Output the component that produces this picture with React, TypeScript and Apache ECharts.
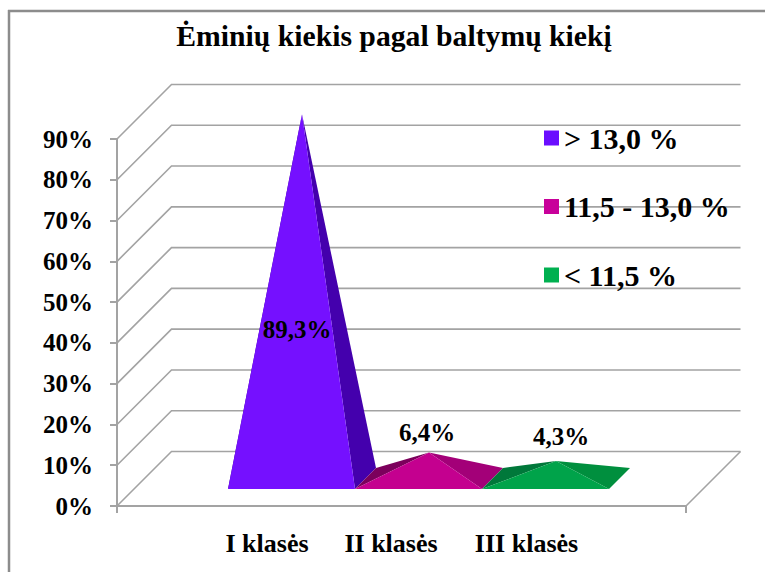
import React, { useEffect, useRef } from "react";
import * as echarts from "echarts";

const titleText = "Ėminių kiekis pagal baltymų kiekį";
const categories = ["I klasės", "II klasės", "III klasės"];
const seriesNames = ["> 13,0 %", "11,5 - 13,0 %", "< 11,5 %"];
const seriesValues = [89.3, 6.4, 4.3];
const dataLabels = ["89,3%", "6,4%", "4,3%"];
const yTicks = [0, 10, 20, 30, 40, 50, 60, 70, 80, 90];
const frontColors = ["#7510ff", "#c4008f", "#00a34a"];
const rightColors = ["#4400ad", "#a30078", "#008f3e"];
const leftColors = ["#3a0090", "#7c005c", "#00783a"];
const legendColors = ["#6a0dff", "#c8009a", "#00b050"];
const labelNudge = [[-5, 215], [-2, -20], [5, -24]];
const categoryLabelPadding = [0, 0, 23];

const FONT = '"Liberation Serif", "Times New Roman", serif';
const GRID_COLOR = "#a3a3a3";
const WALL_DEPTH = 54.5;
const D_FRONT = 17;
const D_BACK = 38;
const D_MID = 27.5;

const polygon = (points: number[][], fill: string) => ({
  type: "polygon",
  shape: { points },
  style: { fill, stroke: null },
});

function wallItem(params: any, api: any) {
  const v = api.value(0);
  const cs = params.coordSys;
  const y = api.coord([0, v])[1];
  const x0 = cs.x;
  const x1 = cs.x + cs.width;
  const children: any[] = [
    {
      type: "polyline",
      shape: {
        points: [
          [x0, y],
          [x0 + WALL_DEPTH, y - WALL_DEPTH],
          [x1 + WALL_DEPTH, y - WALL_DEPTH],
        ],
      },
      style: { stroke: GRID_COLOR, lineWidth: 1.6, fill: null },
    },
  ];
  if (v === 0) {
    children.push({
      type: "line",
      shape: { x1: x1, y1: y, x2: x1 + WALL_DEPTH, y2: y - WALL_DEPTH },
      style: { stroke: GRID_COLOR, lineWidth: 1.6 },
    });
  }
  return { type: "group", children };
}

function pyramidItem(idx: number) {
  return (_params: any, api: any) => {
    const cat = api.value(0);
    const val = api.value(1);
    const top = api.coord([cat, val]);
    const base = api.coord([cat, 0]);
    const half = api.size([1, 0])[0] / 2;
    const at = (dx: number, d: number) => [base[0] + dx + d, base[1] - d];
    const fl = at(-half, D_FRONT);
    const fr = at(half, D_FRONT);
    const bl = at(-half, D_BACK);
    const br = at(half, D_BACK);
    const apex = [top[0] + D_MID, top[1] - D_MID];
    return {
      type: "group",
      children: [
        polygon([fl, bl, apex], leftColors[idx]),
        polygon([fr, br, apex], rightColors[idx]),
        polygon([fl, fr, apex], frontColors[idx]),
        {
          type: "text",
          z2: 50,
          style: {
            x: apex[0] + labelNudge[idx][0],
            y: apex[1] + labelNudge[idx][1],
            text: dataLabels[idx],
            fill: "#000",
            font: `bold 25px ${FONT}`,
            align: "center",
            verticalAlign: "middle",
          },
        },
      ],
    };
  };
}

export default function App() {
  const ref = useRef<HTMLDivElement>(null);
  useEffect(() => {
    const chart = echarts.init(ref.current!, undefined, { renderer: "svg" });
    const axisColor = { lineStyle: { color: GRID_COLOR, width: 2 } };
    chart.setOption({
      animation: false,
      backgroundColor: "#ffffff",
      title: {
        text: titleText,
        left: 389,
        top: 16,
        textAlign: "center",
        textStyle: { fontFamily: FONT, fontWeight: "bold", fontSize: 29.7, color: "#000" },
      },
      legend: {
        orient: "vertical",
        left: 539,
        top: 118,
        itemWidth: 15,
        itemHeight: 15,
        itemGap: 38.5,
        icon: "rect",
        selectedMode: false,
        data: seriesNames,
        textStyle: { fontFamily: FONT, fontWeight: "bold", fontSize: 30, color: "#000" },
      },
      graphic: [
        { type: "line", shape: { x1: 8, y1: 11, x2: 765, y2: 11 }, style: { stroke: "#8c8c8c", lineWidth: 2.5 }, silent: true },
        { type: "line", shape: { x1: 9, y1: 10, x2: 9, y2: 572 }, style: { stroke: "#8c8c8c", lineWidth: 2.5 }, silent: true },
      ],
      grid: [
        { left: 117, right: 79, top: 139, bottom: 66 },
        { left: 211, width: 381, top: 139, bottom: 66 },
        { left: 205, width: 372, top: 139, bottom: 66 },
      ],
      xAxis: [
        {
          type: "value",
          gridIndex: 0,
          min: 0,
          max: 1,
          interval: 1,
          splitLine: { show: false },
          axisLine: { show: true, ...axisColor },
          axisTick: { show: true, length: 7, lineStyle: { color: GRID_COLOR, width: 2 } },
          axisLabel: { show: false },
        },
        { type: "category", gridIndex: 1, data: categories, show: false },
        {
          type: "category",
          gridIndex: 2,
          data: categories.map((c, i) => ({
            value: c,
            textStyle: { padding: [0, 0, 0, categoryLabelPadding[i]] },
          })),
          axisLine: { show: false },
          axisTick: { show: false },
          axisLabel: {
            margin: 24,
            fontFamily: FONT,
            fontWeight: "bold",
            fontSize: 26,
            color: "#000",
            interval: 0,
          },
        },
      ],
      yAxis: [
        {
          type: "value",
          gridIndex: 0,
          min: 0,
          max: 90,
          interval: 10,
          axisLine: { show: true, ...axisColor },
          axisTick: { show: true, length: 7, lineStyle: { color: GRID_COLOR, width: 2 } },
          splitLine: { show: false },
          axisLabel: {
            margin: 24,
            formatter: "{value}%",
            fontFamily: FONT,
            fontWeight: "bold",
            fontSize: 25,
            color: "#000",
          },
        },
        { type: "value", gridIndex: 1, min: 0, max: 90, interval: 10, show: false },
        { type: "value", gridIndex: 2, min: 0, max: 90, interval: 10, show: false },
      ],
      series: [
        {
          type: "custom",
          xAxisIndex: 0,
          yAxisIndex: 0,
          z: 1,
          silent: true,
          clip: false,
          encode: { y: 0 },
          renderItem: wallItem,
          data: yTicks.map((t) => [t]),
        },
        ...seriesNames.map((name, i) => ({
          type: "custom",
          name,
          xAxisIndex: 1,
          yAxisIndex: 1,
          z: 3 + i,
          clip: false,
          itemStyle: { color: legendColors[i] },
          encode: { x: 0, y: 1 },
          renderItem: pyramidItem(i),
          data: [[i, seriesValues[i]]],
        })),
      ],
    });
    return () => chart.dispose();
  }, []);
  return (
    <div
      ref={ref}
      style={{ position: "absolute", left: 0, top: 0, width: 765, height: 572 }}
    />
  );
}
